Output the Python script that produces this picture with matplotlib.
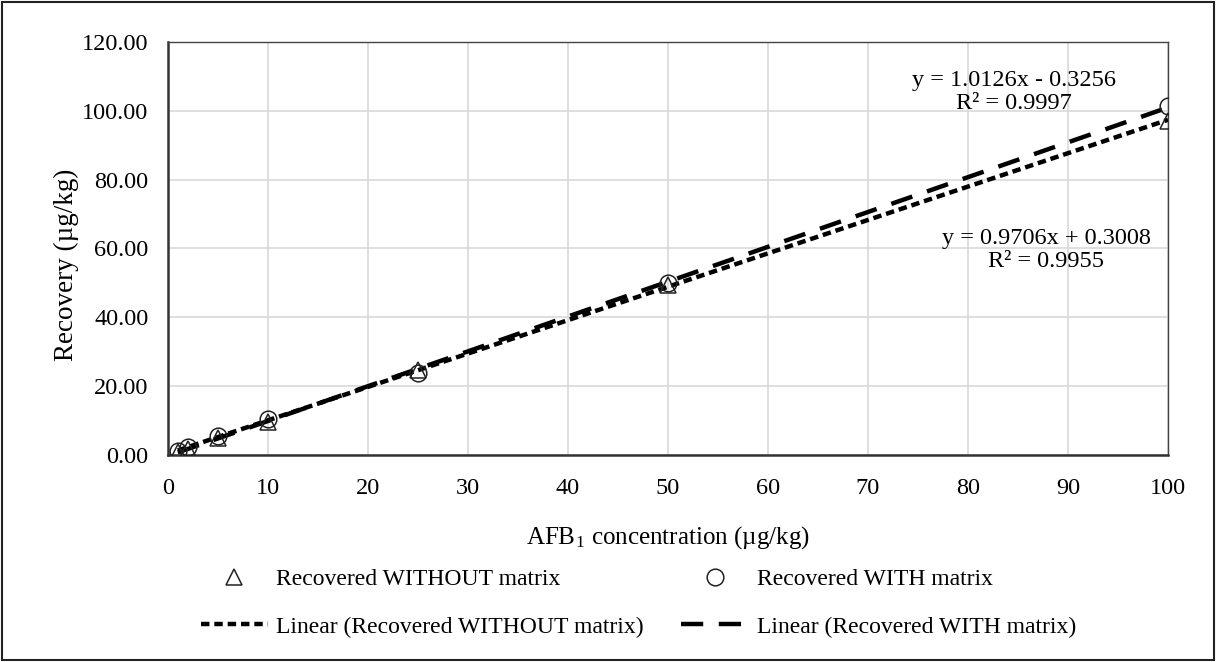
import numpy as np
import matplotlib.pyplot as plt
from matplotlib.patches import Rectangle

plt.rcParams['font.family'] = ['Liberation Serif', 'DejaVu Serif']
plt.rcParams['mathtext.fontset'] = 'stix'

# data
conc = [1, 2, 5, 10, 25, 50, 100]
rec_without = [0.8, 1.8, 4.8, 9.6, 24.5, 49.4, 96.9]
rec_with = [1.1, 2.2, 5.4, 10.3, 23.8, 50.0, 101.5]
# trendline coefficients (slope, intercept) as printed on the chart
fit_without = [0.9706, 0.3008]
fit_with = [1.0126, -0.3256]
r2_without = 0.9955
r2_with = 0.9997
yticks = [0, 20, 40, 60, 80, 100, 120]
xticks = [0, 10, 20, 30, 40, 50, 60, 70, 80, 90, 100]

fig = plt.figure(figsize=(12.16, 6.62), dpi=100)
ax = fig.add_axes([0.138, 0.313, 0.8225, 0.6237])

xs = np.array([conc[0], conc[-1]])
l1, = ax.plot(xs, fit_without[0] * xs + fit_without[1], color='black', lw=3.2,
              linestyle=(0, (1.9, 1.1)), label='Linear (Recovered WITHOUT matrix)', zorder=3)
l2, = ax.plot(xs, fit_with[0] * xs + fit_with[1], color='black', lw=3.2,
              linestyle=(0, (5.0, 3.5)), label='Linear (Recovered WITH matrix)', zorder=3)
m1, = ax.plot(conc, rec_without, linestyle='none', marker='^', ms=12, mfc='none',
              mec='#222222', mew=1.1, label='Recovered WITHOUT matrix', zorder=4)
m2, = ax.plot(conc, rec_with, linestyle='none', marker='o', ms=12, mfc='none',
              mec='#222222', mew=1.1, label='Recovered WITH matrix', zorder=4)

ax.set_xlim(0, 100)
ax.set_ylim(0, 120)
ax.set_xticks(xticks)
ax.set_yticks(yticks)
ax.set_yticklabels(['%.2f' % v for v in yticks])
ax.tick_params(labelsize=17.5, length=0)
ax.tick_params(axis='x', pad=17)
ax.tick_params(axis='y', pad=14)
ax.grid(True, color='#d9d9d9', lw=1.2)
ax.set_axisbelow(True)
for s in ['top', 'right']:
    ax.spines[s].set_color('#444444')
    ax.spines[s].set_linewidth(1.0)
for s in ['left', 'bottom']:
    ax.spines[s].set_color('#333333')
    ax.spines[s].set_linewidth(1.8)

ax.set_xlabel('AFB$_{\\mathregular{1}}$ concentration (µg/kg)', fontsize=18, labelpad=18)
ax.set_ylabel('Recovery (µg/kg)', fontsize=19.5)
ax.yaxis.set_label_coords(-0.089, 0.46)

ax.text(84.6, 105.4, 'y = %.4fx - %.4f\nR² = %.4f' % (fit_with[0], -fit_with[1], r2_with),
        ha='center', va='center', fontsize=17.5, linespacing=1.15)
ax.text(87.8, 59.6, 'y = %.4fx + %.4f\nR² = %.4f' % (fit_without[0], fit_without[1], r2_without),
        ha='center', va='center', fontsize=17.5, linespacing=1.15)

fig.legend(handles=[m1, l1, m2, l2], ncol=2, loc='center', bbox_to_anchor=(0.525, 0.089),
           frameon=False, fontsize=17, handlelength=2.85, columnspacing=1.6,
           labelspacing=1.1, handletextpad=0.35)

fig.patches.append(Rectangle((0.002, 0.003), 0.996, 0.994, transform=fig.transFigure,
                             fill=False, edgecolor='#222222', lw=1.5))

plt.savefig('out.png', dpi=100)
